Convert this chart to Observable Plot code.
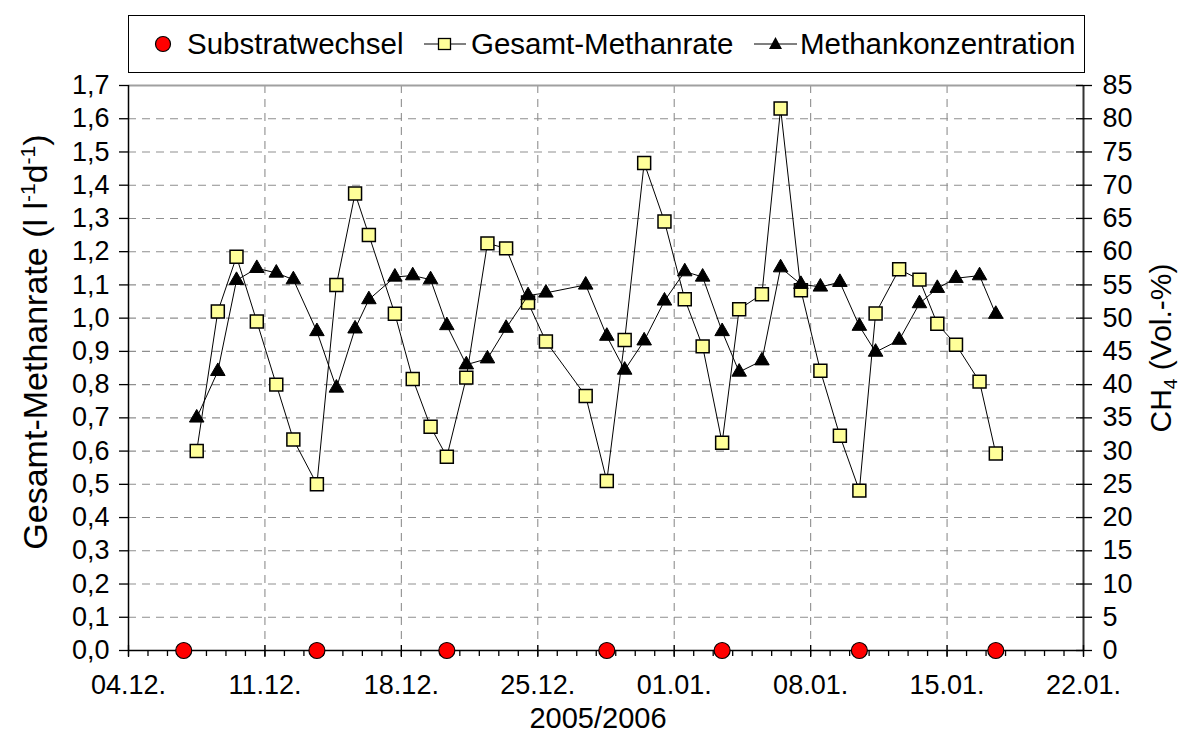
<!DOCTYPE html>
<html>
<head>
<meta charset="utf-8">
<script src="https://cdn.jsdelivr.net/npm/d3@7"></script>
<script src="https://cdn.jsdelivr.net/npm/@observablehq/plot@0.6"></script>
<style>
  body { margin: 0; background: #fff; font-family: "Liberation Sans", Arial, sans-serif; }
  #legend { position: relative; width: 1183px; height: 80px; }
  #legend .box { position: absolute; left: 128px; top: 15px; width: 955px; height: 56px; border: 1.3px solid #000; background: #fff; }
  #legend .item { position: absolute; top: 0; height: 56px; display: flex; align-items: center; font-size: 29.5px; color: #000; white-space: nowrap; }
  #legend svg { display: block; }
</style>
</head>
<body>
<div id="legend">
  <div class="box">
    <div class="item" style="left:22px"><svg width="24" height="24"><circle cx="12" cy="12" r="7.5" fill="#ff0000" stroke="#000" stroke-width="1.2"/></svg></div>
    <div class="item" style="left:58px">Substratwechsel</div>
    <div class="item" style="left:295px"><svg width="42" height="24"><line x1="0" y1="12" x2="42" y2="12" stroke="#000" stroke-width="1"/><rect x="14.5" y="6.5" width="12" height="11" fill="#ffff99" stroke="#000" stroke-width="1.3"/></svg></div>
    <div class="item" style="left:342px">Gesamt-Methanrate</div>
    <div class="item" style="left:625px"><svg width="43" height="24"><line x1="0" y1="12" x2="43" y2="12" stroke="#000" stroke-width="1"/><path d="M21.5,5 L28,17 L15,17 Z" fill="#000"/></svg></div>
    <div class="item" style="left:671px">Methankonzentration</div>
  </div>
</div>
<div id="chart"></div>
<script>
// Measurement times (UTC) of the daily samples
const sampleTimes = [
  "2005-12-07T12:00", "2005-12-08T14:00", "2005-12-09T13:00", "2005-12-10T14:00", "2005-12-11T14:00",
  "2005-12-12T11:00", "2005-12-13T16:00", "2005-12-14T16:00", "2005-12-15T15:00", "2005-12-16T08:00",
  "2005-12-17T16:00", "2005-12-18T14:00", "2005-12-19T12:00", "2005-12-20T08:00", "2005-12-21T08:00",
  "2005-12-22T10:00", "2005-12-23T09:00", "2005-12-24T12:00", "2005-12-25T10:00", "2005-12-27T11:00",
  "2005-12-28T13:00", "2005-12-29T11:00", "2005-12-30T11:00", "2005-12-31T12:00", "2006-01-01T13:00",
  "2006-01-02T11:00", "2006-01-03T11:00", "2006-01-04T08:00", "2006-01-05T12:00", "2006-01-06T11:00",
  "2006-01-07T12:00", "2006-01-08T12:00", "2006-01-09T12:00", "2006-01-10T12:00", "2006-01-11T08:00",
  "2006-01-12T13:00", "2006-01-13T14:00", "2006-01-14T12:00", "2006-01-15T11:00", "2006-01-16T16:00",
  "2006-01-17T12:00"
];

// Gesamt-Methanrate (l l^-1 d^-1)
const methaneRate = [
  0.60, 1.02, 1.185, 0.99, 0.80, 0.635, 0.50, 1.10, 1.375, 1.25,
  1.013, 0.817, 0.673, 0.583, 0.821, 1.225, 1.21, 1.047, 0.93, 0.766,
  0.51, 0.934, 1.467, 1.291, 1.057, 0.915, 0.625, 1.027, 1.072, 1.631,
  1.084, 0.842, 0.646, 0.481, 1.014, 1.147, 1.116, 0.983, 0.92, 0.809,
  0.593
];

// Methankonzentration CH4 (Vol.-%)
const methaneConc = [
  35.0, 42.0, 55.7, 57.5, 56.8, 55.8, 48.0, 39.5, 48.4, 52.8,
  56.2, 56.4, 55.8, 48.9, 43.0, 43.9, 48.5, 53.4, 53.8, 55.0,
  47.3, 42.2, 46.6, 52.6, 57.0, 56.2, 48.0, 41.9, 43.6, 57.6,
  55.1, 54.7, 55.4, 48.8, 44.9, 46.7, 52.2, 54.5, 56.0, 56.4,
  50.6
];

// Substratwechsel (feed changes)
const substrateChanges = [
  "2005-12-06T20:00", "2005-12-13T16:00", "2005-12-20T08:00", "2005-12-28T13:00",
  "2006-01-03T11:00", "2006-01-10T12:00", "2006-01-17T12:00"
];

// Axis ticks
const weekTicks = ["2005-12-04", "2005-12-11", "2005-12-18", "2005-12-25", "2006-01-01", "2006-01-08", "2006-01-15", "2006-01-22"];
const rateTicks = [0, 0.1, 0.2, 0.3, 0.4, 0.5, 0.6, 0.7, 0.8, 0.9, 1.0, 1.1, 1.2, 1.3, 1.4, 1.5, 1.6, 1.7];
const concTicks = [0, 5, 10, 15, 20, 25, 30, 35, 40, 45, 50, 55, 60, 65, 70, 75, 80, 85];

const utc = s => new Date(s + (s.length > 10 ? ":00Z" : "T00:00:00Z"));
const K = 50; // 85 Vol.-% corresponds to 1.7 l/(l d) on the shared vertical scale

const rows = sampleTimes.map((t, i) => ({date: utc(t), rate: methaneRate[i], conc: methaneConc[i]}));
const changes = substrateChanges.map(utc);
const weeks = weekTicks.map(utc);
const xDomain = [weeks[0], weeks[weeks.length - 1]];
const days = d3.utcDay.range(xDomain[0], d3.utcDay.offset(xDomain[1], 1));
const comma = d => d.toFixed(1).replace(".", ",");
const blank = () => "";
const grid = {stroke: "#8f8f8f", strokeOpacity: 1, strokeWidth: 1.1, strokeDasharray: "8,6"};

const chart = Plot.plot({
  width: 1183,
  height: 655,
  marginTop: 5,
  marginBottom: 85,
  marginLeft: 128,
  marginRight: 100,
  style: {fontFamily: "'Liberation Sans', Arial, sans-serif", fontSize: "27px", color: "#000", overflow: "visible", background: "transparent"},
  x: {type: "utc", domain: xDomain, label: null},
  y: {domain: [0, 1.7], label: null},
  marks: [
    Plot.gridY(rateTicks.slice(1, -1), grid),
    Plot.gridX(weeks.slice(1, -1), grid),
    Plot.ruleY([1.7], {stroke: "#a0a0a0", strokeWidth: 2}),
    // axis lines
    Plot.ruleX([xDomain[0]], {stroke: "#000", strokeWidth: 1.5}),
    Plot.ruleX([xDomain[1]], {stroke: "#333", strokeWidth: 2}),
    Plot.ruleY([0], {stroke: "#000", strokeWidth: 1.5}),
    // left axis
    Plot.axisY(rateTicks, {anchor: "left", tickSize: 9, tickPadding: 10, tickFormat: comma, label: null, strokeWidth: 1.3}),
    // right axis (CH4), crossing ticks
    Plot.axisY(concTicks.map(v => v / K), {anchor: "right", tickSize: 8, tickPadding: 11, tickFormat: d => String(Math.round(d * K)), label: null, strokeWidth: 1.3}),
    Plot.axisY(concTicks.map(v => v / K), {anchor: "right", tickSize: 8, dx: -8, tickFormat: blank, label: null, strokeWidth: 1.3}),
    // bottom axis: daily minor ticks, weekly crossing ticks with labels
    Plot.axisX(days, {anchor: "bottom", tickSize: 6, tickFormat: blank, label: null, strokeWidth: 1.3}),
    Plot.axisX(weeks, {anchor: "bottom", tickSize: 12, dy: -5, tickFormat: blank, label: null, strokeWidth: 1.3}),
    Plot.axisX(weeks, {anchor: "bottom", tickSize: 0, tickPadding: 24, tickFormat: d3.utcFormat("%d.%m."), label: null}),
    // series
    Plot.dot(changes, {x: d => d, y: () => 0, r: 8, fill: "#ff0000", stroke: "#000", strokeWidth: 1.2}),
    Plot.lineY(rows, {x: "date", y: "rate", stroke: "#000", strokeWidth: 1}),
    Plot.dot(rows, {x: "date", y: "rate", symbol: "square", r: 7.3, fill: "#ffff99", stroke: "#000", strokeWidth: 1.5}),
    Plot.lineY(rows, {x: "date", y: d => d.conc / K, stroke: "#000", strokeWidth: 1}),
    Plot.dot(rows, {x: "date", y: d => d.conc / K, symbol: "triangle", r: 5.4, fill: "#000", stroke: "#000", strokeWidth: 1}),
    // x axis title
    Plot.text(["2005/2006"], {frameAnchor: "bottom", dx: -8, dy: 77, fontSize: 29, lineAnchor: "bottom"})
  ]
});

document.getElementById("chart").appendChild(chart);

// rotated axis titles with super-/subscripts
const svg = d3.select(chart);
const left = svg.append("text")
  .attr("transform", "translate(35,262) rotate(-90)")
  .attr("text-anchor", "middle")
  .attr("dy", "0.35em")
  .attr("font-size", 34)
  .attr("fill", "#000");
left.append("tspan").text("Gesamt-Methanrate (l l");
left.append("tspan").attr("font-size", 21).attr("dy", "-12").text("-1");
left.append("tspan").attr("dy", "12").text("d");
left.append("tspan").attr("font-size", 21).attr("dy", "-12").text("-1");
left.append("tspan").attr("dy", "12").text(")");

const right = svg.append("text")
  .attr("transform", "translate(1160,268) rotate(-90)")
  .attr("text-anchor", "middle")
  .attr("dy", "0.35em")
  .attr("font-size", 30)
  .attr("fill", "#000");
right.append("tspan").text("CH");
right.append("tspan").attr("font-size", 19).attr("dy", "6").text("4");
right.append("tspan").attr("dy", "-6").text(" (Vol.-%)");
</script>
</body>
</html>
